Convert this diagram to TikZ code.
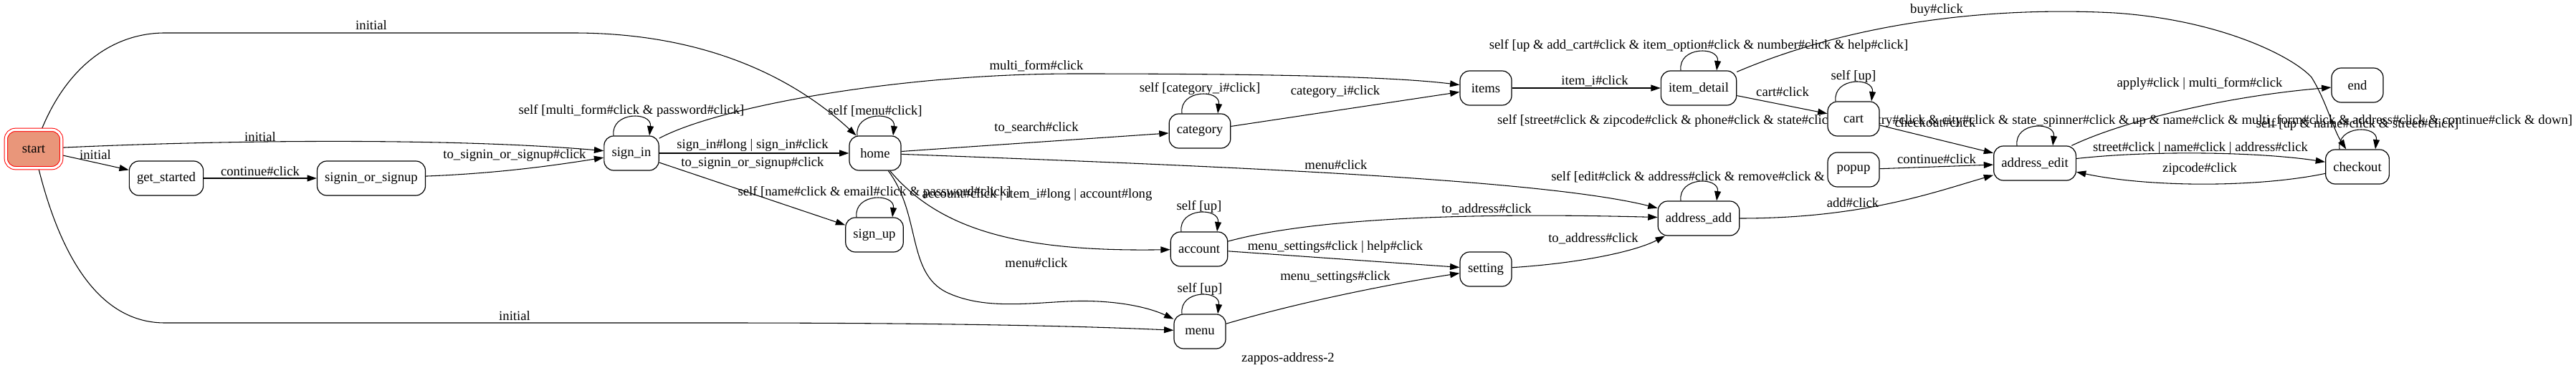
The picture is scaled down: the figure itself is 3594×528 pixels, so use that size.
\documentclass[tikz,border=0pt]{standalone}
\usepackage{fontspec}
\setmainfont{Liberation Serif}
\usetikzlibrary{arrows.meta, calc}

\definecolor{startfill}{HTML}{E9967A}
\pgfdeclarelayer{edges}
\pgfsetlayers{edges,main}

% loop on top of a state, with its label
\newcommand{\selfloop}[3]{%
	\draw[trans] ($(#1.north)+(-25,0)$) .. controls +(-4,-34) and +(4,-34) .. ($(#1.north)+(25,0)$);
	\node[elabel] (#2) at ($(#1.north)+(0,-34)$) {#3};
}

\begin{document}
\begin{tikzpicture} [x=0.75pt, y=-0.75pt,
	state/.style={draw, line width=0.9pt, fill=white, rounded corners=10pt, minimum width=54pt, minimum height=36pt, inner xsep=8pt, font=\fontsize{14}{16}\selectfont},
	trans/.style={line width=0.8pt, -{Triangle[length=10pt, width=6.7pt]}},
	elabel/.style={inner sep=0pt, font=\fontsize{14}{16}\selectfont}]

	\useasboundingbox (0,0) rectangle (3594,528);

		% Define states.

	\node[state, draw=red, double=white, double distance=2.5pt, line width=0.75pt, fill=startfill, minimum width=58pt, minimum height=40pt] (start) at (47,208) {start};
	\node[state] (get_started) at (232,249) {get\_started};
	\node[state] (signin_or_signup) at (518,249) {signin\_or\_signup};
	\node[state] (sign_in) at (881,214) {sign\_in};
	\node[state] (home) at (1221,214) {home};
	\node[state] (sign_up) at (1220,328) {sign\_up};
	\node[state] (category) at (1674,183) {category};
	\node[state] (account) at (1673,348) {account};
	\node[state] (menu) at (1674,463) {menu};
	\node[state] (items) at (2073,123) {items};
	\node[state] (setting) at (2073,376) {setting};
	\node[state] (item_detail) at (2370,123) {item\_detail};
	\node[state] (address_add) at (2370,305) {address\_add};
	\node[state] (cart) at (2586,166) {cart};
	\node[state] (popup) at (2586,237) {popup};
	\node[state] (address_edit) at (2839,228) {address\_edit};
	\node[state] (end) at (3289,119) {end};
	\node[state] (checkout) at (3289,233) {checkout};

\begin{pgfonlayer}{edges}

% Draw transitions from start.

	\draw[trans] (start) .. controls (95,90) and (160,46) .. (230,46) -- (800,46) .. controls (1000,46) and (1120,120) .. (home);
	\draw[trans] (start) .. controls (350,194) and (650,194) .. (sign_in);
	\draw[trans] (start) -- (get_started);
	\draw[trans] (get_started) -- (signin_or_signup);
	\draw[trans] (signin_or_signup) .. controls (700,242) and (780,230) .. (sign_in);
	\draw[trans] (start) .. controls (90,380) and (150,451) .. (230,451) -- (1000,451) .. controls (1300,451) and (1500,455) .. (menu);

	\node[elabel] (lInitTop) at (518,35) {initial};
	\node[elabel] (lInitSignin) at (363,191) {initial};
	\node[elabel] (lInitGet) at (133,216) {initial};
	\node[elabel] (lContinue) at (363,239) {continue\#click};
	\node[elabel] (lToSignin) at (718,217) {to\_signin\_or\_signup\#click};
	\node[elabel] (lInitMenu) at (718,441) {initial};

% Draw transitions from sign_in and home.

	\selfloop{sign_in}{lSigninSelf}{self [multi\_form\#click \& password\#click]}
	\draw[trans] (sign_in) -- (home);
	\draw[trans] (sign_in) -- (sign_up);
	\draw[trans] (sign_in) .. controls (1000,150) and (1250,103) .. (1500,103) .. controls (1800,103) and (1950,108) .. (items);

	\selfloop{home}{lHomeSelf}{self [menu\#click]}
	\draw[trans] (home) -- (category);
	\draw[trans] (home) .. controls (1700,232) and (2150,250) .. (address_add);
	\draw[trans] (home) .. controls (1310,320) and (1420,352) .. (account);
	\draw[trans] (home) .. controls (1285,300) and (1265,380) .. (1320,408) .. controls (1370,432) and (1430,424) .. (1489,421) .. controls (1550,418) and (1600,428) .. (menu);

	\selfloop{sign_up}{lSignupSelf}{self [name\#click \& email\#click \& password\#click]}

	\node[elabel] (lSigninHome) at (1050,203) {sign\_in\#long | sign\_in\#click};
	\node[elabel] (lSigninSignup) at (1050,228) {to\_signin\_or\_signup\#click};
	\node[elabel] (lMultiForm) at (1446,92) {multi\_form\#click};
	\node[elabel] (lToSearch) at (1446,178) {to\_search\#click};
	\node[elabel] (lHomeAddr) at (1864,230) {menu\#click};
	\node[elabel] (lHomeAccount) at (1447,272) {account\#click | item\_i\#long | account\#long};
	\node[elabel] (lHomeMenu) at (1446,367) {menu\#click};

% Draw transitions of the middle column.

	\selfloop{category}{lCategorySelf}{self [category\_i\#click]}
	\draw[trans] (category) -- (items);
	\selfloop{account}{lAccountSelf}{self [up]}
	\draw[trans] (account) .. controls (1850,300) and (2100,298) .. (address_add);
	\draw[trans] (account) -- (setting);
	\selfloop{menu}{lMenuSelf}{self [up]}
	\draw[trans] (menu) .. controls (1820,420) and (1950,395) .. (setting);

	\node[elabel] (lCategory) at (1863,128) {category\_i\#click};
	\node[elabel] (lAccAddr) at (2074,292) {to\_address\#click};
	\node[elabel] (lAccSetting) at (1863,345) {menu\_settings\#click | help\#click};
	\node[elabel] (lMenuSetting) at (1863,387) {menu\_settings\#click};

% Draw transitions towards checkout.

	\draw[trans] (items) -- (item_detail);
	\selfloop{item_detail}{lDetailSelf}{self [up \& add\_cart\#click \& item\_option\#click \& number\#click \& help\#click]}
	\draw[trans] (item_detail) -- (cart);
	\draw[trans] (item_detail) .. controls (2600,25) and (2800,10) .. (2950,18) .. controls (3100,28) and (3200,80) .. (3225,108) .. controls (3245,140) and (3255,180) .. (checkout);

	\draw[trans] ($(address_add.north)+(-25,0)$) .. controls +(-4,-34) and +(4,-34) .. ($(address_add.north)+(25,0)$);
	\node[elabel, anchor=west] (lAddSelf) at (2164,247) {self [edit\#click \& address\#click \& remove\#click \&};
	\draw[trans] (setting) .. controls (2200,368) and (2280,352) .. (address_add);
	\draw[trans] (address_add) .. controls (2600,305) and (2700,268) .. (address_edit);

	\selfloop{cart}{lCartSelf}{self [up]}
	\draw[trans] (cart) -- (address_edit);
	\draw[trans] (popup) -- (address_edit);

	\selfloop{address_edit}{lEditSelf}{self [street\#click \& zipcode\#click \& phone\#click \& state\#click \& country\#click \& city\#click \& state\_spinner\#click \& up \& name\#click \& multi\_form\#click \& address\#click \& continue\#click \& down]}
	\draw[trans] (address_edit) .. controls (2960,170) and (3100,135) .. (end);
	\draw[trans] (address_edit) .. controls (3000,210) and (3150,212) .. (checkout);
	\draw[trans] (checkout) .. controls (3150,262) and (3000,262) .. (address_edit);
	\selfloop{checkout}{lCheckoutSelf}{self [up \& name\#click \& street\#click]}

	\node[elabel] (lItemI) at (2225,113) {item\_i\#click};
	\node[elabel] (lCart) at (2487,128) {cart\#click};
	\node[elabel] (lBuy) at (2702,14) {buy\#click};
	\node[elabel] (lSetAddr) at (2223,333) {to\_address\#click};
	\node[elabel] (lAdd) at (2585,283) {add\#click};
	\node[elabel] (lCheckout) at (2700,171) {checkout\#click};
	\node[elabel] (lContinuePopup) at (2702,222) {continue\#click};
	\node[elabel] (lApply) at (3069,117) {apply\#click | multi\_form\#click};
	\node[elabel] (lStreet) at (3070,207) {street\#click | name\#click | address\#click};
	\node[elabel] (lZip) at (3069,236) {zipcode\#click};

\end{pgfonlayer}

	\node[elabel] (title) at (1797,501) {zappos-address-2};

\end{tikzpicture}
\end{document}
